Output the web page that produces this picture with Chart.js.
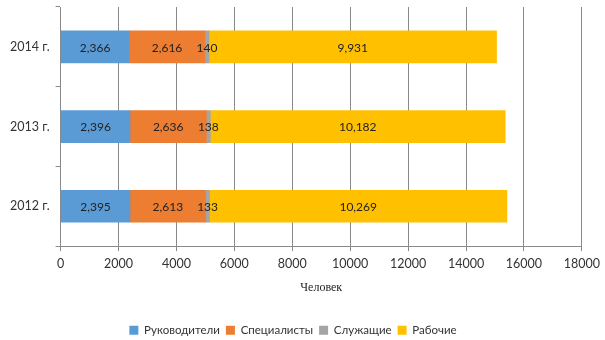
<!DOCTYPE html>
<html>
<head>
<meta charset="utf-8">
<script src="https://cdn.jsdelivr.net/npm/chart.js@4"></script>
<style>
  html, body { margin: 0; padding: 0; background: #fff; }
  #wrap { width: 605px; height: 340px; }
</style>
</head>
<body>
<div id="wrap"><canvas id="staffChart"></canvas></div>
<script>
const years = ['2014 г.', '2013 г.', '2012 г.'];
const managers = [2366, 2396, 2395];
const specialists = [2616, 2636, 2613];
const clerks = [140, 138, 133];
const workers = [9931, 10182, 10269];
const xTicks = [0, 2000, 4000, 6000, 8000, 10000, 12000, 14000, 16000, 18000];

const gridGray = '#898989';

// draws the value in the middle of each segment
const barLabels = {
    id: 'barLabels',
    afterDatasetsDraw(chart) {
        const ctx = chart.ctx;
        ctx.save();
        ctx.font = '12px Lato';
        ctx.fillStyle = '#222';
        ctx.textAlign = 'center';
        ctx.textBaseline = 'middle';
        chart.data.datasets.forEach((ds, i) => {
            chart.getDatasetMeta(i).data.forEach((bar, j) => {
                const x = (bar.x + bar.base) / 2;
                ctx.fillText(ds.data[j].toLocaleString('en-US'), x, bar.y + 1);
            });
        });
        ctx.restore();
    }
};

const ctx = document.getElementById('staffChart').getContext('2d');
new Chart(ctx, {
    type: 'bar',
    data: {
        labels: years,
        datasets: [
            { label: 'Руководители', data: managers, backgroundColor: '#5B9BD5' },
            { label: 'Специалисты', data: specialists, backgroundColor: '#ED7D31' },
            { label: 'Служащие', data: clerks, backgroundColor: '#A5A5A5' },
            { label: 'Рабочие', data: workers, backgroundColor: '#FFC000' }
        ]
    },
    options: {
        indexAxis: 'y',
        responsive: true,
        maintainAspectRatio: false,
        animation: false,
        layout: { padding: { top: 7, right: 23, left: 4, bottom: -6 } },
        datasets: { bar: { barThickness: 32 } },
        scales: {
            x: {
                stacked: true,
                min: 0,
                max: 18000,
                afterBuildTicks: axis => { axis.ticks = xTicks.map(v => ({ value: v })); },
                grid: { color: gridGray, tickLength: 5, drawTicks: true },
                border: { color: gridGray },
                ticks: {
                    font: { family: 'Lato', size: 12.5 },
                    color: '#333',
                    padding: 5,
                    callback: v => String(v)
                },
                title: {
                    display: true,
                    text: 'Человек',
                    font: { family: 'Liberation Serif', size: 12 },
                    color: '#222',
                    padding: { top: 5, bottom: 23 }
                }
            },
            y: {
                stacked: true,
                // no extra room above the first category label
                afterFit: scale => { scale.paddingTop = 0; scale.paddingBottom = 0; },
                grid: { color: gridGray, drawOnChartArea: false, tickLength: 5, offset: true },
                border: { color: gridGray },
                ticks: { font: { family: 'Lato', size: 12.5 }, color: '#333', padding: 6 }
            }
        },
        plugins: {
            legend: {
                position: 'bottom',
                labels: {
                    boxWidth: 9,
                    boxHeight: 9,
                    padding: 6,
                    font: { family: 'Lato', size: 11.5 },
                    color: '#333'
                }
            },
            tooltip: { enabled: false }
        }
    },
    plugins: [barLabels]
});
</script>
</body>
</html>
